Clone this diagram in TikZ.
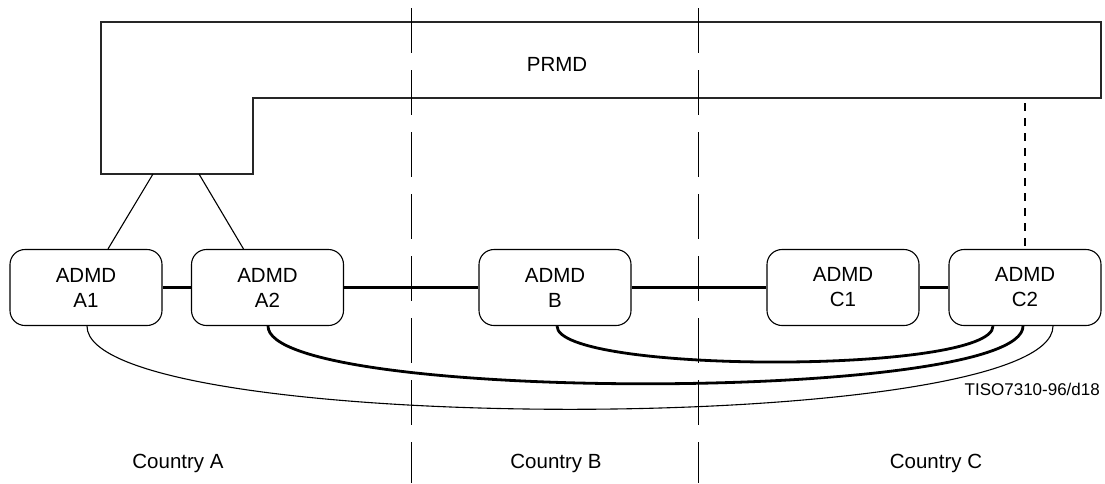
\documentclass[tikz,border=0pt]{standalone}
\usepackage{fontspec}
\setmainfont{Liberation Sans}
\begin{document}
\begin{tikzpicture}[x=1pt,y=-1pt,
  admd/.style={draw, line width=1.1pt, rounded corners=15pt, minimum width=152pt, minimum height=76pt, align=center, inner sep=0pt, font=\fontsize{20.5}{25}\selectfont},
  thin/.style={line width=1.1pt},
  thick/.style={line width=2.8pt},
  border/.style={line width=1pt, dash pattern=on 45pt off 17pt},
  lbl/.style={font=\fontsize{20.5}{25}\selectfont, inner sep=0pt}]
\useasboundingbox (0,0) rectangle (1105,483);
% PRMD outline
\draw[line width=1.4pt, black!85] (101,22) -- (1101,22) -- (1101,98) -- (253,98) -- (253,174) -- (101,174) -- cycle;
\node[lbl] (prmd) at (557,64) {PRMD};
\coordinate (pa1) at (153,174);
\coordinate (pa2) at (199,174);
\coordinate (pc2) at (1025,98);
% country borders
\coordinate (b1t) at (411.5,8);
\coordinate (b1b) at (411.5,483);
\coordinate (b2t) at (698.5,8);
\coordinate (b2b) at (698.5,483);
\draw[border] (b1t) -- (b1b);
\draw[border] (b2t) -- (b2b);
% ADMD boxes
\node[admd] (A1) at (86,287.5) {ADMD\\A1};
\node[admd] (A2) at (267.5,287.5) {ADMD\\A2};
\node[admd] (B) at (555,287.5) {ADMD\\B};
\node[admd] (C1) at (843,287.5) {ADMD\\C1};
\node[admd] (C2) at (1025,287.5) {ADMD\\C2};
% links to PRMD
\draw[thin] (pa1) -- ([xshift=22pt]A1.north);
\draw[thin] (pa2) -- ([xshift=-24pt]A2.north);
\draw[thin, dash pattern=on 8pt off 7pt, dash phase=10pt] (pc2) -- (C2.north);
% thick links
\draw[thick] (A1.east) -- (A2.west);
\draw[thick] (A2.east) -- (B.west);
\draw[thick] (B.east) -- (C1.west);
\draw[thick] (C1.east) -- (C2.west);
% curves
\draw[thin] ([xshift=1pt]A1.south) .. controls +(0,111) and +(0,111) .. ([xshift=28pt]C2.south);
\draw[thick] ([xshift=0.5pt]A2.south) .. controls +(0,77) and +(0,77) .. ([xshift=-2pt]C2.south);
\draw[thick] ([xshift=2pt]B.south) .. controls +(0,48) and +(0,48) .. ([xshift=-32pt]C2.south);
% labels
\node[font=\fontsize{17}{20}\selectfont, inner sep=0pt, anchor=base east] (tiso) at (1100,395) {TISO7310-96/d18};
\node[lbl] (ca) at (178,463) {Country A};
\node[lbl] (cb) at (556,463) {Country B};
\node[lbl] (cc) at (936,463) {Country C};
\end{tikzpicture}
\end{document}
